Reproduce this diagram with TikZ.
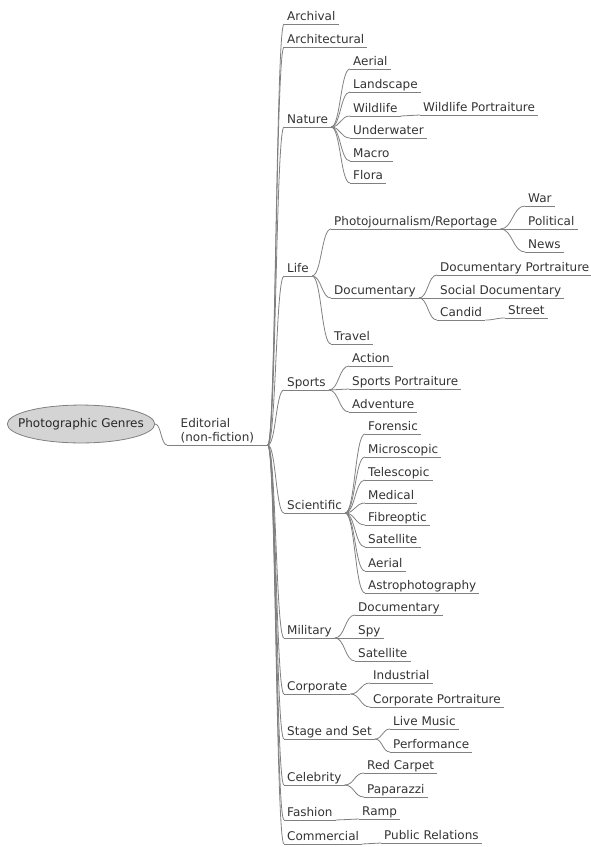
\documentclass[tikz,border=0pt]{standalone}
\usepackage{fontspec}
\setmainfont{DejaVu Sans}
\usepackage{tikz}
\usetikzlibrary{calc,shapes.geometric}
\definecolor{inkgray}{RGB}{51,51,51}
\definecolor{rulegray}{RGB}{128,128,128}
\definecolor{rootfill}{RGB}{212,212,212}
\tikzset{
  rule/.style={draw=rulegray,line width=0.8pt},
  ruled/.style={anchor=south west,font=\fontsize{12}{14}\selectfont,text=inkgray,
    append after command={\pgfextra{\let\topicnode\tikzlastnode}
      (\topicnode.south west) edge[rule] (\topicnode.south east)}},
  topic/.style={ruled,inner xsep=3pt,inner ysep=0.5pt,text height=9pt,text depth=3pt},
  root/.style={ellipse,draw=rulegray,fill=rootfill,line width=0.8pt,inner xsep=-10.7pt,
    inner ysep=7.4pt,text height=9pt,text depth=3pt,font=\fontsize{12}{14}\selectfont,text=black!85},
  link/.style={rule,to path={let \p1=(\tikztostart),\p2=(\tikztotarget),
    \p3=($(\p1)!0.5!(\p2)$) in .. controls (\x3,\y1) and (\x3,\y2) .. (\tikztotarget)}}
}
\begin{document}
\begin{tikzpicture}[x=1pt,y=-1pt]
  \useasboundingbox (0,0) rectangle (590,847);
  \node[root] (genres) at (81,424) {Photographic Genres};
  \node[ruled,align=left,inner xsep=13.5pt,inner ysep=1.9pt] (editorial) at (167,445) {Editorial\\(non-fiction)};
  \draw[link] (genres.east) to (editorial.south west);
  % main branches
  \foreach \nd/\yy/\txt in {archival/24/Archival,architectural/47/Architectural,nature/127/Nature,
      life/276/Life,sports/390/Sports,scientific/513/Scientific,military/638/Military,
      corporate/694/Corporate,stage/739/Stage and Set,celebrity/785/Celebrity,
      fashion/820/Fashion,commercial/844/Commercial}{
    \node[topic] (\nd) at (284,\yy) {\txt};
    \draw[link] (editorial.south east) to (\nd.south west);
  }
  % nature
  \foreach \nd/\yy/\txt in {natAerial/69/Aerial,landscape/92/Landscape,wildlife/116/Wildlife,
      underwater/138/Underwater,macro/161/Macro,flora/183/Flora}{
    \node[topic] (\nd) at (350,\yy) {\txt};
    \draw[link] (nature.south east) to (\nd.south west);
  }
  \node[topic] (wildPortrait) at (420,115) {Wildlife Portraiture};
  \draw[link] (wildlife.south east) to (wildPortrait.south west);
  % life
  \foreach \nd/\yy/\txt in {photojournalism/229/{Photojournalism/Reportage},lifeDoc/298/Documentary,
      travel/344/Travel}{
    \node[topic] (\nd) at (331,\yy) {\txt};
    \draw[link] (life.south east) to (\nd.south west);
  }
  \foreach \nd/\yy/\txt in {war/206/War,political/229/Political,news/252/News}{
    \node[topic] (\nd) at (525,\yy) {\txt};
    \draw[link] (photojournalism.south east) to (\nd.south west);
  }
  \foreach \nd/\yy/\txt in {docPortrait/275/Documentary Portraiture,socialDoc/298/Social Documentary,
      candid/320/Candid}{
    \node[topic] (\nd) at (437,\yy) {\txt};
    \draw[link] (lifeDoc.south east) to (\nd.south west);
  }
  \node[topic] (street) at (505,318) {Street};
  \draw[link] (candid.south east) to (street.south west);
  % sports
  \foreach \nd/\yy/\txt in {action/366/Action,sportsPortrait/389/Sports Portraiture,
      adventure/412/Adventure}{
    \node[topic] (\nd) at (349,\yy) {\txt};
    \draw[link] (sports.south east) to (\nd.south west);
  }
  % scientific
  \foreach \nd/\yy/\txt in {forensic/434/Forensic,microscopic/457/Microscopic,telescopic/480/Telescopic,
      medical/503/Medical,fibreoptic/525/Fibreoptic,sciSatellite/547/Satellite,
      sciAerial/571/Aerial,astro/593/Astrophotography}{
    \node[topic] (\nd) at (365,\yy) {\txt};
    \draw[link] (scientific.south east) to (\nd.south west);
  }
  % military
  \foreach \nd/\yy/\txt in {milDoc/615/Documentary,spy/638/Spy,milSatellite/661/Satellite}{
    \node[topic] (\nd) at (355,\yy) {\txt};
    \draw[link] (military.south east) to (\nd.south west);
  }
  % corporate
  \foreach \nd/\yy/\txt in {industrial/683/Industrial,corpPortrait/707/Corporate Portraiture}{
    \node[topic] (\nd) at (370,\yy) {\txt};
    \draw[link] (corporate.south east) to (\nd.south west);
  }
  % stage and set
  \foreach \nd/\yy/\txt in {liveMusic/729/Live Music,performance/752/Performance}{
    \node[topic] (\nd) at (390,\yy) {\txt};
    \draw[link] (stage.south east) to (\nd.south west);
  }
  % celebrity
  \foreach \nd/\yy/\txt in {redCarpet/773/Red Carpet,paparazzi/797/Paparazzi}{
    \node[topic] (\nd) at (364,\yy) {\txt};
    \draw[link] (celebrity.south east) to (\nd.south west);
  }
  \node[topic] (ramp) at (359,819) {Ramp};
  \draw[link] (fashion.south east) to (ramp.south west);
  \node[topic] (publicRel) at (381,843) {Public Relations};
  \draw[link] (commercial.south east) to (publicRel.south west);
\end{tikzpicture}
\end{document}
